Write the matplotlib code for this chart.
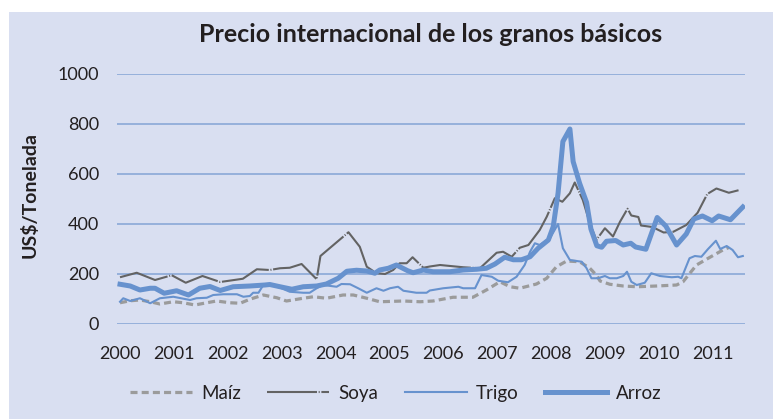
import matplotlib
matplotlib.use("Agg")
import matplotlib.pyplot as plt
from matplotlib.patches import Rectangle

plt.rcParams['font.family'] = ['Lato', 'DejaVu Sans']

# ---- data (year as decimal, US$/tonelada) ----
maiz_t = [2000.00, 2000.19, 2000.37, 2000.56, 2000.74, 2000.99, 2001.17, 2001.39, 2001.61, 2001.79,
          2002.04, 2002.23, 2002.41, 2002.66, 2002.91, 2003.09, 2003.40, 2003.59, 2003.83, 2004.14,
          2004.33, 2004.58, 2004.82, 2005.26, 2005.57, 2005.81, 2006.18, 2006.55, 2006.80, 2007.05,
          2007.24, 2007.42, 2007.73, 2007.92, 2008.10, 2008.29, 2008.53, 2008.72, 2008.84, 2008.91,
          2009.09, 2009.34, 2009.59, 2009.96, 2010.33, 2010.45, 2010.70, 2010.95, 2011.19, 2011.30]
maiz_v = [85, 93, 96, 89, 80, 89, 85, 76, 85, 92,
          85, 83, 99, 116, 105, 92, 103, 109, 103, 116,
          116, 103, 89, 92, 89, 92, 107, 107, 136, 169,
          149, 143, 160, 183, 229, 252, 249, 223, 196, 172,
          159, 152, 149, 152, 156, 169, 236, 267, 296, 306]

soya_t = [2000.00, 2000.31, 2000.65, 2000.96, 2001.22, 2001.53, 2001.86, 2002.28, 2002.54, 2002.78,
          2002.97, 2003.15, 2003.37, 2003.65, 2003.72, 2004.24, 2004.45, 2004.58, 2004.76, 2004.92,
          2005.07, 2005.19, 2005.32, 2005.43, 2005.63, 2005.75, 2005.94, 2006.37, 2006.68, 2006.99,
          2007.11, 2007.27, 2007.42, 2007.58, 2007.79, 2007.92, 2008.07, 2008.21, 2008.35, 2008.44,
          2008.59, 2008.72, 2008.84, 2009.00, 2009.15, 2009.28, 2009.42, 2009.49, 2009.62, 2009.67,
          2009.88, 2010.09, 2010.27, 2010.51, 2010.72, 2010.90, 2011.07, 2011.30, 2011.48]
soya_v = [187, 205, 176, 195, 165, 192, 168, 181, 219, 216,
          223, 225, 240, 179, 272, 367, 309, 229, 203, 200,
          216, 243, 243, 267, 225, 230, 236, 227, 223, 285,
          289, 269, 305, 316, 376, 429, 503, 489, 523, 566,
          496, 403, 336, 383, 350, 409, 461, 434, 428, 394,
          388, 366, 369, 396, 445, 520, 542, 525, 535]

trigo_t = [2000.00, 2000.06, 2000.19, 2000.37, 2000.56, 2000.74, 2000.99, 2001.30, 2001.42, 2001.61,
           2001.73, 2001.92, 2002.17, 2002.29, 2002.41, 2002.47, 2002.57, 2002.66, 2002.78, 2002.93,
           2003.15, 2003.40, 2003.52, 2003.65, 2003.77, 2004.02, 2004.11, 2004.27, 2004.42, 2004.58,
           2004.76, 2004.89, 2005.01, 2005.16, 2005.26, 2005.50, 2005.69, 2005.75, 2006.00, 2006.28,
           2006.37, 2006.59, 2006.71, 2006.90, 2007.02, 2007.20, 2007.36, 2007.51, 2007.61, 2007.70,
           2007.79, 2007.98, 2008.13, 2008.22, 2008.35, 2008.57, 2008.66, 2008.75, 2008.87, 2009.00,
           2009.09, 2009.22, 2009.34, 2009.41, 2009.49, 2009.59, 2009.74, 2009.86, 2010.02, 2010.24,
           2010.36, 2010.42, 2010.57, 2010.67, 2010.79, 2010.91, 2011.06, 2011.14, 2011.26, 2011.37,
           2011.47, 2011.56]
trigo_v = [89, 103, 92, 103, 83, 103, 109, 96, 103, 105,
           116, 119, 119, 109, 112, 125, 125, 156, 160, 149,
           129, 125, 125, 143, 156, 149, 160, 159, 143, 125,
           143, 133, 143, 149, 133, 125, 125, 134, 143, 149,
           143, 143, 196, 189, 173, 167, 189, 236, 289, 323,
           316, 343, 400, 303, 256, 249, 223, 183, 183, 192,
           183, 183, 192, 209, 169, 156, 165, 203, 192, 187,
           189, 183, 263, 272, 269, 299, 333, 300, 312, 296,
           267, 272]

arroz_t = [2000.00, 2000.19, 2000.37, 2000.56, 2000.65, 2000.82, 2001.05, 2001.27, 2001.48, 2001.67,
           2001.86, 2002.10, 2002.41, 2002.69, 2002.78, 2002.97, 2003.19, 2003.40, 2003.65, 2003.83,
           2004.05, 2004.21, 2004.39, 2004.58, 2004.73, 2004.82, 2004.98, 2005.13, 2005.34, 2005.44,
           2005.63, 2005.81, 2006.12, 2006.37, 2006.62, 2006.80, 2006.96, 2007.14, 2007.30, 2007.45,
           2007.61, 2007.76, 2007.95, 2008.04, 2008.13, 2008.22, 2008.35, 2008.41, 2008.53, 2008.66,
           2008.74, 2008.85, 2008.94, 2009.03, 2009.20, 2009.34, 2009.48, 2009.57, 2009.76, 2009.97,
           2010.13, 2010.33, 2010.51, 2010.65, 2010.81, 2010.99, 2011.11, 2011.33, 2011.56]
arroz_v = [159, 152, 136, 143, 143, 123, 133, 116, 143, 150,
           134, 149, 152, 156, 158, 149, 139, 149, 152, 160,
           183, 211, 215, 212, 203, 216, 223, 236, 213, 205,
           216, 209, 209, 216, 219, 223, 240, 267, 257, 257,
           269, 303, 336, 389, 523, 730, 780, 650, 563, 486,
           380, 313, 307, 331, 334, 316, 323, 308, 299, 426,
           392, 316, 360, 420, 432, 413, 432, 417, 468]

years = list(range(2000, 2012))
yticks = [0, 200, 400, 600, 800, 1000]

BG = '#D9DFF1'
GRID = '#83A4D5'
BLUE = '#6792CE'
TXT = '#231F20'

W, H = 773, 419
fig = plt.figure(figsize=(W / 100, H / 100), dpi=100)
fig.patch.set_facecolor('white')
fig.patches.append(Rectangle((9 / W, 0), 1 - 9 / W, 1 - 12 / H, transform=fig.transFigure,
                             facecolor=BG, edgecolor='none', zorder=-10))

ax = fig.add_axes([117 / W, 1 - 324 / H, (745 - 117) / W, (324 - 74) / H])
ax.set_zorder(5)
ax.set_facecolor('none')
ax.set_xlim(1999.944, 2011.6)
ax.set_ylim(0, 1000)
for s in ax.spines.values():
    s.set_visible(False)
ax.set_yticks(yticks)
ax.set_xticks(years)
ax.set_xticklabels([str(y) for y in years])
ax.tick_params(axis='both', length=0, labelsize=13, colors=TXT)
ax.tick_params(axis='y', pad=13)
ax.tick_params(axis='x', pad=16)
ax.yaxis.grid(True, color=GRID, linewidth=1.1)
ax.set_axisbelow(True)

ax.plot(maiz_t, maiz_v, color='#9B9B9B', linewidth=2.3, linestyle=(0, (2.2, 1.3)),
        dash_capstyle='butt', label='Maíz', zorder=2)
ax.plot(soya_t, soya_v, color='#636363', linewidth=1.5, linestyle=(0, (24, 0.8, 0.5, 0.8)),
        label='Soya', zorder=3)
ax.plot(trigo_t, trigo_v, color=BLUE, linewidth=1.5, label='Trigo', zorder=4)
ax.plot(arroz_t, arroz_v, color=BLUE, linewidth=3.6, label='Arroz', zorder=5)

fig.text(30 / W, 1 - 195 / H, 'US$/Tonelada', rotation=90, ha='center', va='center',
         fontsize=14, fontweight='bold', color=TXT)

fig.text(431 / W, 1 - 35 / H, 'Precio internacional de los granos básicos', ha='center',
         va='center', fontsize=18, fontweight='bold', color=TXT)

leg = fig.legend(loc='center', bbox_to_anchor=(396 / W, 1 - 393 / H), ncol=4, frameon=False,
                 fontsize=13.5, handlelength=3.3, handletextpad=0.5, columnspacing=1.4,
                 labelcolor=TXT)

fig.savefig('out.png', dpi=100, facecolor=fig.get_facecolor())
